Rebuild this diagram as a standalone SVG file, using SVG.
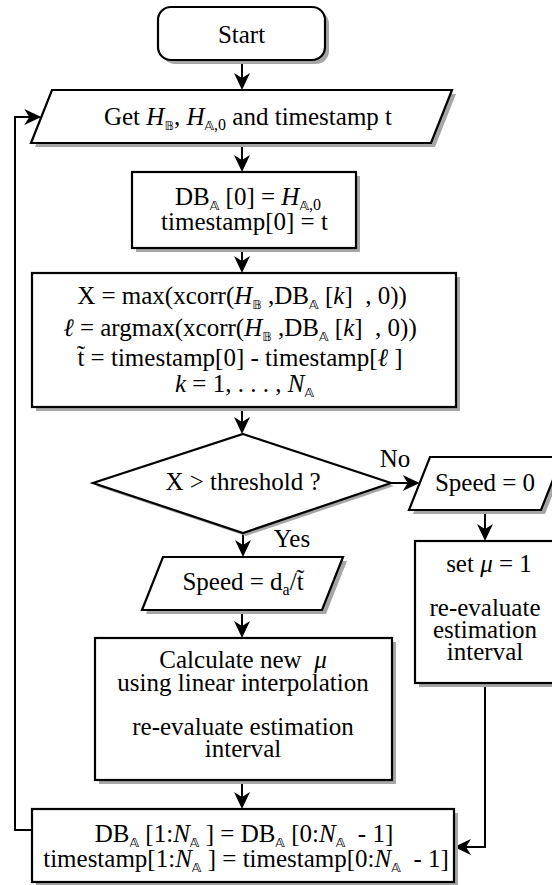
<svg xmlns="http://www.w3.org/2000/svg" width="552" height="885" viewBox="0 0 552 885">
<style>
.bg{fill:#fff}
.box{fill:#fff;stroke:#000;stroke-width:2.2;stroke-linejoin:miter}
.sh{fill:#a6a6a6}
.t{font-family:"Liberation Serif",serif;font-size:25px;text-anchor:middle;fill:#000}
.m{font-style:italic}
.bb{font-family:"DejaVu Sans",sans-serif;font-size:13px;font-style:normal}
.sub{font-size:16px}
.conn{fill:none;stroke:#000;stroke-width:2}
</style>
<defs>
<marker id="arr" viewBox="-18 -9 20 18" markerWidth="20" markerHeight="18" refX="-2" refY="0" orient="auto" markerUnits="userSpaceOnUse">
<path d="M0,0 L-17,-8 L-12,0 L-17,8 Z" fill="#000"/>
</marker>
</defs>
<rect class="bg" x="0" y="0" width="552" height="885"/>

<g id="connectors">
<path class="conn" d="M242,60 V88" marker-end="url(#arr)"/>
<path class="conn" d="M242,143 V170" marker-end="url(#arr)"/>
<path class="conn" d="M242,248 V271" marker-end="url(#arr)"/>
<path class="conn" d="M242,407 V432" marker-end="url(#arr)"/>
<path class="conn" d="M243,533 V555" marker-end="url(#arr)"/>
<path class="conn" d="M391,483 H417.7" marker-end="url(#arr)"/>
<path class="conn" d="M485,510 V539" marker-end="url(#arr)"/>
<path class="conn" d="M242,610 V636" marker-end="url(#arr)"/>
<path class="conn" d="M242,780 V807" marker-end="url(#arr)"/>
<path class="conn" d="M485,683 V847 H456" marker-end="url(#arr)"/>
<path class="conn" d="M32,830 H15 V117 H39.3" marker-end="url(#arr)"/>
<text class="t" x="395" y="467">No</text>
<text class="t" x="292" y="547">Yes</text>
</g>

<g id="start">
<rect class="sh" x="162" y="11" width="167" height="53" rx="13"/>
<rect class="box" x="158" y="7" width="167" height="53" rx="13"/>
<text class="t" x="241.5" y="43">Start</text>
</g>

<g id="get">
<polygon class="sh" points="56,94 456,94 435,147 35,147"/>
<polygon class="box" points="52,90 452,90 431,143 31,143"/>
<text class="t" x="248" y="125" xml:space="preserve">Get <tspan class="m">H</tspan><tspan class="bb" dy="5">𝔹</tspan><tspan dy="-5">, </tspan><tspan class="m">H</tspan><tspan class="bb" dy="5">𝔸</tspan><tspan class="sub">,0</tspan><tspan dy="-5"> and timestamp t</tspan></text>
</g>

<g id="init">
<rect class="sh" x="136" y="176" width="224" height="76"/>
<rect class="box" x="132" y="172" width="224" height="76"/>
<text class="t" x="248" y="205" xml:space="preserve">DB<tspan class="bb" dy="5">𝔸</tspan><tspan dy="-5"> [0] = </tspan><tspan class="m">H</tspan><tspan class="bb" dy="5">𝔸</tspan><tspan class="sub">,0</tspan></text>
<text class="t" x="244.5" y="230">timestamp[0] = t</text>
</g>

<g id="xcorr">
<rect class="sh" x="36" y="277" width="424" height="134"/>
<rect class="box" x="32" y="273" width="424" height="134"/>
<text class="t" x="242" y="304" xml:space="preserve">X = max(xcorr(<tspan class="m">H</tspan><tspan class="bb" dy="5">𝔹</tspan><tspan dy="-5"> ,DB</tspan><tspan class="bb" dy="5">𝔸</tspan><tspan dy="-5"> [</tspan><tspan class="m">k</tspan>]  , 0))</text>
<text class="t" x="240" y="336" xml:space="preserve"><tspan class="m">ℓ</tspan> = argmax(xcorr(<tspan class="m">H</tspan><tspan class="bb" dy="5">𝔹</tspan><tspan dy="-5"> ,DB</tspan><tspan class="bb" dy="5">𝔸</tspan><tspan dy="-5"> [</tspan><tspan class="m">k</tspan>]  , 0))</text>
<text class="t" x="240" y="366" xml:space="preserve">t̃ = timestamp[0] - timestamp[<tspan class="m">ℓ</tspan> ]</text>
<text class="t" x="244.5" y="392" xml:space="preserve"><tspan class="m">k</tspan> = 1, . . . , <tspan class="m">N</tspan><tspan class="bb" dy="5">𝔸</tspan></text>
</g>

<g id="decision">
<polygon class="sh" points="246,437 394,486 246,536 96,486"/>
<polygon class="box" points="243,434 391,483 243,533 93,483"/>
<text class="t" x="243" y="490">X &gt; threshold ?</text>
</g>

<g id="speed0">
<polygon class="sh" points="434,461 566,461 545,514 413,514"/>
<polygon class="box" points="430,457 562,457 541,510 409,510"/>
<text class="t" x="485" y="491">Speed = 0</text>
</g>

<g id="setmu">
<rect class="sh" x="419" y="545" width="141" height="142"/>
<rect class="box" x="415" y="541" width="141" height="142"/>
<text class="t" x="489" y="572" xml:space="preserve">set <tspan class="m">μ</tspan> = 1</text>
<text class="t" x="485" y="616">re-evaluate</text>
<text class="t" x="485" y="638">estimation</text>
<text class="t" x="485" y="660">interval</text>
</g>

<g id="speed">
<polygon class="sh" points="167,561 347,561 326,614 146,614"/>
<polygon class="box" points="163,557 343,557 322,610 142,610"/>
<text class="t" x="243" y="590" xml:space="preserve">Speed = d<tspan class="sub" dy="5">a</tspan><tspan dy="-5">/t̃</tspan></text>
</g>

<g id="calc">
<rect class="sh" x="99" y="642" width="297" height="142"/>
<rect class="box" x="95" y="638" width="297" height="142"/>
<text class="t" x="243" y="668" xml:space="preserve">Calculate new  <tspan class="m">μ</tspan></text>
<text class="t" x="243" y="691">using linear interpolation</text>
<text class="t" x="243" y="735">re-evaluate estimation</text>
<text class="t" x="243" y="757">interval</text>
</g>

<g id="shift">
<rect class="sh" x="36" y="813" width="422" height="73"/>
<rect class="box" x="32" y="809" width="422" height="73"/>
<text class="t" x="244" y="842" xml:space="preserve">DB<tspan class="bb" dy="5">𝔸</tspan><tspan dy="-5"> [1:</tspan><tspan class="m">N</tspan><tspan class="bb" dy="5">𝔸</tspan><tspan dy="-5"> ] = DB</tspan><tspan class="bb" dy="5">𝔸</tspan><tspan dy="-5"> [0:</tspan><tspan class="m">N</tspan><tspan class="bb" dy="5">𝔸</tspan><tspan dy="-5">  - 1]</tspan></text>
<text class="t" x="246" y="867" xml:space="preserve">timestamp[1:<tspan class="m">N</tspan><tspan class="bb" dy="5">𝔸</tspan><tspan dy="-5"> ] = timestamp[0:</tspan><tspan class="m">N</tspan><tspan class="bb" dy="5">𝔸</tspan><tspan dy="-5">  - 1]</tspan></text>
</g>
</svg>
